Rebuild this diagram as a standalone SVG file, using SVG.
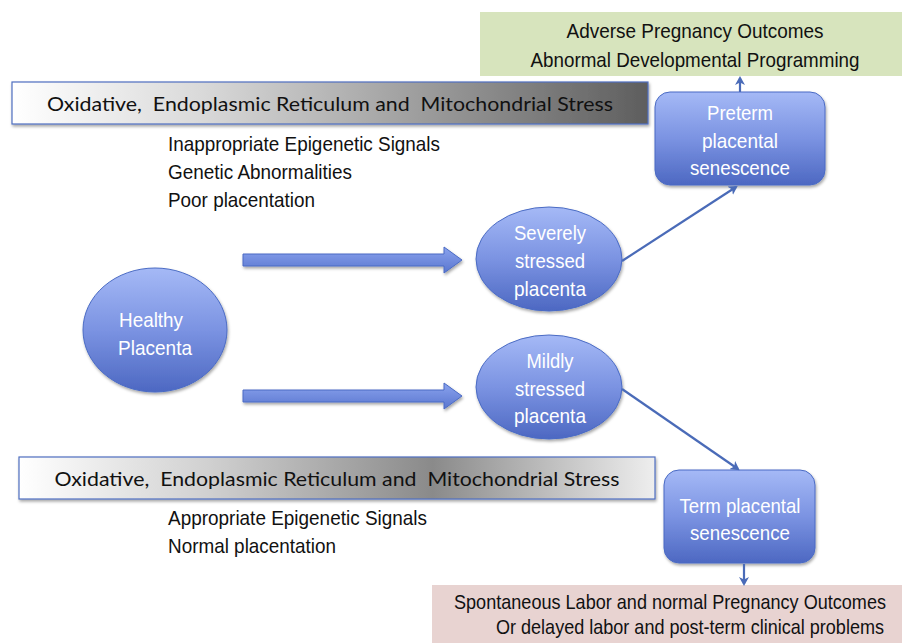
<svg xmlns="http://www.w3.org/2000/svg" width="902" height="643" viewBox="0 0 902 643">
<defs>
<style>
.t{font-family:"Liberation Sans Narrow","Liberation Sans",Arial,sans-serif;font-size:21px;fill:#111}
.w{font-family:"Liberation Sans Narrow","Liberation Sans",Arial,sans-serif;font-size:21px;fill:#fff;text-anchor:middle}
.c{font-family:Lato,"Open Sans","Liberation Sans",sans-serif;font-size:20px;fill:#111;text-anchor:middle;white-space:pre}
.node{stroke:#4a6bc4;stroke-width:1;fill:url(#blue)}
.ln{stroke:#4a6bb8;stroke-width:2.2;fill:none}
.bar{stroke:#4f6fc0;stroke-width:1.2}
</style>
<linearGradient id="blue" x1="0" y1="0" x2="0" y2="1">
<stop offset="0" stop-color="#a5b9f6"/>
<stop offset="0.5" stop-color="#7b93e2"/>
<stop offset="1" stop-color="#4d68c2"/>
</linearGradient>
<linearGradient id="blueh" x1="0" y1="0" x2="0" y2="1">
<stop offset="0" stop-color="#8aa3ee"/>
<stop offset="1" stop-color="#5a76cf"/>
</linearGradient>
<linearGradient id="g1" x1="0" y1="0" x2="1" y2="0">
<stop offset="0" stop-color="#ffffff"/>
<stop offset="0.3" stop-color="#d9d9d9"/>
<stop offset="1" stop-color="#5e5e5e"/>
</linearGradient>
<linearGradient id="g2" x1="0" y1="0" x2="1" y2="0">
<stop offset="0" stop-color="#ffffff"/>
<stop offset="0.3" stop-color="#d0d0d0"/>
<stop offset="0.65" stop-color="#8a8a8a"/>
<stop offset="1" stop-color="#eeeeee"/>
</linearGradient>
<filter id="sh" x="-10%" y="-10%" width="130%" height="130%">
<feDropShadow dx="1" dy="2" stdDeviation="1.5" flood-color="#000" flood-opacity="0.35"/>
</filter>
<marker id="ah" markerWidth="10" markerHeight="10" refX="7" refY="5" orient="auto" markerUnits="userSpaceOnUse">
<path d="M0,0 L9,5 L0,10 L2.5,5 Z" fill="#4a6bb8"/>
</marker>
</defs>
<rect width="902" height="643" fill="#fff"/>

<g id="adverse">
<rect x="480" y="12" width="422" height="64" fill="#d7e4bd"/>
<text class="t" x="695" y="38" text-anchor="middle" textLength="257" lengthAdjust="spacingAndGlyphs">Adverse Pregnancy Outcomes</text>
<text class="t" x="695" y="67" text-anchor="middle" textLength="329" lengthAdjust="spacingAndGlyphs">Abnormal Developmental Programming</text>
</g>

<g id="stress-top">
<rect class="bar" x="12" y="82" width="636" height="42" fill="url(#g1)" filter="url(#sh)"/>
<text class="c" x="330" y="111" textLength="566" lengthAdjust="spacingAndGlyphs" xml:space="preserve">Oxidative,  Endoplasmic Reticulum and  Mitochondrial Stress</text>
</g>

<g id="factors-top">
<text class="t" x="168" y="151" textLength="272" lengthAdjust="spacingAndGlyphs">Inappropriate Epigenetic Signals</text>
<text class="t" x="168" y="179" textLength="184" lengthAdjust="spacingAndGlyphs">Genetic Abnormalities</text>
<text class="t" x="168" y="207" textLength="147" lengthAdjust="spacingAndGlyphs">Poor placentation</text>
</g>

<g id="preterm">
<rect class="node" x="655" y="92" width="170" height="93" rx="15" filter="url(#sh)"/>
<text class="w" x="740" y="120" textLength="66" lengthAdjust="spacingAndGlyphs">Preterm</text>
<text class="w" x="740" y="148" textLength="76" lengthAdjust="spacingAndGlyphs">placental</text>
<text class="w" x="740" y="175" textLength="100" lengthAdjust="spacingAndGlyphs">senescence</text>
</g>

<g id="healthy">
<ellipse class="node" cx="155" cy="330" rx="72" ry="62" filter="url(#sh)"/>
<text class="w" x="151" y="327" textLength="64" lengthAdjust="spacingAndGlyphs">Healthy</text>
<text class="w" x="155" y="355" textLength="74" lengthAdjust="spacingAndGlyphs">Placenta</text>
</g>

<g id="severe">
<ellipse class="node" cx="549" cy="259" rx="73" ry="52" filter="url(#sh)"/>
<text class="w" x="550" y="240" textLength="72" lengthAdjust="spacingAndGlyphs">Severely</text>
<text class="w" x="550" y="268" textLength="70" lengthAdjust="spacingAndGlyphs">stressed</text>
<text class="w" x="550" y="296" textLength="72" lengthAdjust="spacingAndGlyphs">placenta</text>
</g>

<g id="mild">
<ellipse class="node" cx="549" cy="387" rx="73" ry="52" filter="url(#sh)"/>
<text class="w" x="550" y="368" textLength="47" lengthAdjust="spacingAndGlyphs">Mildly</text>
<text class="w" x="550" y="396" textLength="70" lengthAdjust="spacingAndGlyphs">stressed</text>
<text class="w" x="550" y="423" textLength="72" lengthAdjust="spacingAndGlyphs">placenta</text>
</g>

<g id="stress-bottom">
<rect class="bar" x="19" y="457" width="636" height="42" fill="url(#g2)" filter="url(#sh)"/>
<text class="c" x="337" y="486" textLength="565" lengthAdjust="spacingAndGlyphs" xml:space="preserve">Oxidative,  Endoplasmic Reticulum and  Mitochondrial Stress</text>
</g>

<g id="factors-bottom">
<text class="t" x="168" y="525" textLength="259" lengthAdjust="spacingAndGlyphs">Appropriate Epigenetic Signals</text>
<text class="t" x="168" y="553" textLength="168" lengthAdjust="spacingAndGlyphs">Normal placentation</text>
</g>

<g id="term">
<rect class="node" x="664" y="470" width="151" height="93" rx="15" filter="url(#sh)"/>
<text class="w" x="740" y="513" textLength="121" lengthAdjust="spacingAndGlyphs">Term placental</text>
<text class="w" x="740" y="540" textLength="100" lengthAdjust="spacingAndGlyphs">senescence</text>
</g>

<g id="spontaneous">
<rect x="432" y="585" width="470" height="58" fill="#e8d3d1"/>
<text class="t" x="670" y="609" font-size="19" text-anchor="middle" textLength="432" lengthAdjust="spacingAndGlyphs">Spontaneous Labor and normal Pregnancy Outcomes</text>
<text class="t" x="690" y="634" font-size="19" text-anchor="middle" textLength="388" lengthAdjust="spacingAndGlyphs">Or delayed labor and post-term clinical problems</text>
</g>

<g id="connectors">
<path d="M243,254 L444,254 L444,247 L462,260 L444,273 L444,266 L243,266 Z" fill="url(#blueh)" stroke="#4a6bc4" stroke-width="1" filter="url(#sh)"/>
<path d="M243,390 L444,390 L444,383 L462,396 L444,409 L444,402 L243,402 Z" fill="url(#blueh)" stroke="#4a6bc4" stroke-width="1" filter="url(#sh)"/>
<line class="ln" x1="622" y1="261" x2="736" y2="187" marker-end="url(#ah)"/>
<line class="ln" x1="622" y1="389" x2="738" y2="469" marker-end="url(#ah)"/>
<line class="ln" x1="740" y1="92" x2="740" y2="78" marker-end="url(#ah)"/>
<line class="ln" x1="744" y1="564" x2="744" y2="584" marker-end="url(#ah)"/>
</g>
</svg>
